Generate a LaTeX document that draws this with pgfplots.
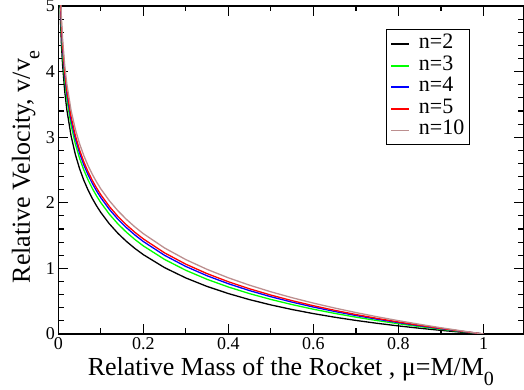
\documentclass[border=0pt]{standalone}
\usepackage{fontspec}
\setmainfont{Liberation Serif}
\usepackage{pgfplots}
\pgfplotsset{compat=1.18}
\definecolor{gbrown}{RGB}{188,143,143}
\definecolor{ggreen}{RGB}{0,255,0}
\definecolor{gblue}{RGB}{0,0,255}
\definecolor{gred}{RGB}{255,0,0}
\newcommand{\sub}[1]{\raisebox{-0.36em}{\fontsize{20}{20}\selectfont #1}}
\begin{document}
\begin{tikzpicture}
\begin{axis}[
  name=ax,
  scale only axis,
  width=465.2pt, height=328pt,
  xmin=0, xmax=1.094, ymin=0, ymax=5,
  xtick={0,0.2,0.4,0.6,0.8,1},
  xticklabels={0,0.2,0.4,0.6,0.8,1},
  ytick={0,1,2,3,4,5},
  minor x tick num=1,
  minor y tick num=4,
  major tick length=10pt,
  minor tick length=5.5pt,
  tick style={line width=1.1pt,black},
  axis line style={line width=1.4pt},
  /pgf/number format/assume math mode=true,
  ticklabel style={font=\fontsize{18}{18}\selectfont},
  label style={font=\fontsize{26}{26}\selectfont},
  xlabel={Relative Mass of the Rocket , μ=M/M\sub{0}},
  ylabel={Relative Velocity, v/v\sub{e}},
  xlabel style={at={(axis description cs:0.5,-0.128)},anchor=base},
  ylabel style={at={(axis description cs:-0.061,0.51)},anchor=base},
  legend style={at={(axis description cs:0.7045,0.929)}, anchor=north west,
    draw=black, line width=1pt, font=\fontsize{22}{22}\selectfont,
    inner xsep=4pt, inner ysep=3.5pt, row sep=0pt,
    nodes={inner sep=1pt, text height=14.3pt, text depth=5.3pt},
    /tikz/every odd column/.append style={column sep=7.5pt}},
  legend cell align=left,
  legend image code/.code={\draw[#1,line width=1.9pt] (0pt,0pt) -- (18pt,0pt);},
  every axis plot/.append style={line width=1.3pt},
]
\addplot[black] coordinates {
(0.003,5.3106)(0.005,4.8008)(0.0075,4.3967)(0.01,4.1102)(0.015,3.7072)(0.02,3.4220)
(0.03,3.0216)(0.04,2.7389)(0.05,2.5207)(0.06,2.3434)(0.07,2.1943)(0.08,2.0657)
(0.09,1.9529)(0.1,1.8526)(0.12,1.6803)(0.14,1.5361)(0.16,1.4126)(0.18,1.3048)
(0.2,1.2094)(0.25,1.0113)(0.3,0.8540)(0.35,0.7248)(0.4,0.6163)(0.45,0.5235)
(0.5,0.4431)(0.55,0.3728)(0.6,0.3108)(0.65,0.2558)(0.7,0.2067)(0.75,0.1627)
(0.8,0.1231)(0.85,0.0875)(0.9,0.0554)(0.95,0.0263)(1,0)};
\addlegendentry{n=2}
\addplot[ggreen] coordinates {
(0.003,5.4768)(0.005,4.9666)(0.0075,4.5621)(0.01,4.2752)(0.015,3.8714)(0.02,3.5853)
(0.03,3.1833)(0.04,2.8989)(0.05,2.6790)(0.06,2.5001)(0.07,2.3493)(0.08,2.2190)
(0.09,2.1046)(0.1,2.0026)(0.12,1.8270)(0.14,1.6794)(0.16,1.5526)(0.18,1.4415)
(0.2,1.3427)(0.25,1.1363)(0.3,0.9707)(0.35,0.8331)(0.4,0.7163)(0.45,0.6152)
(0.5,0.5264)(0.55,0.4478)(0.6,0.3775)(0.65,0.3141)(0.7,0.2567)(0.75,0.2044)
(0.8,0.1564)(0.85,0.1125)(0.9,0.0721)(0.95,0.0346)(1,0)};
\addlegendentry{n=3}
\addplot[gblue] coordinates {
(0.003,5.5599)(0.005,5.0496)(0.0075,4.6448)(0.01,4.3577)(0.015,3.9535)(0.02,3.6670)
(0.03,3.2641)(0.04,2.9789)(0.05,2.7582)(0.06,2.5784)(0.07,2.4268)(0.08,2.2957)
(0.09,2.1804)(0.1,2.0776)(0.12,1.9003)(0.14,1.7511)(0.16,1.6226)(0.18,1.5098)
(0.2,1.4094)(0.25,1.1988)(0.3,1.0290)(0.35,0.8873)(0.4,0.7663)(0.45,0.6610)
(0.5,0.5681)(0.55,0.4853)(0.6,0.4108)(0.65,0.3433)(0.7,0.2817)(0.75,0.2252)
(0.8,0.1731)(0.85,0.1250)(0.9,0.0804)(0.95,0.0388)(1,0)};
\addlegendentry{n=4}
\addplot[gred] coordinates {
(0.003,5.6097)(0.005,5.0993)(0.0075,4.6944)(0.01,4.4072)(0.015,4.0027)(0.02,3.7160)
(0.03,3.3126)(0.04,3.0269)(0.05,2.8057)(0.06,2.6254)(0.07,2.4733)(0.08,2.3417)
(0.09,2.2259)(0.1,2.1226)(0.12,1.9443)(0.14,1.7941)(0.16,1.6646)(0.18,1.5508)
(0.2,1.4494)(0.25,1.2363)(0.3,1.0640)(0.35,0.9198)(0.4,0.7963)(0.45,0.6885)
(0.5,0.5931)(0.55,0.5078)(0.6,0.4308)(0.65,0.3608)(0.7,0.2967)(0.75,0.2377)
(0.8,0.1831)(0.85,0.1325)(0.9,0.0854)(0.95,0.0413)(1,0)};
\addlegendentry{n=5}
\addplot[gbrown] coordinates {
(0.003,5.7094)(0.005,5.1988)(0.0075,4.7937)(0.01,4.5062)(0.015,4.1012)(0.02,3.8140)
(0.03,3.4096)(0.04,3.1229)(0.05,2.9007)(0.06,2.7194)(0.07,2.5663)(0.08,2.4337)
(0.09,2.3169)(0.1,2.2126)(0.12,2.0323)(0.14,1.8801)(0.16,1.7486)(0.18,1.6328)
(0.2,1.5294)(0.25,1.3113)(0.3,1.1340)(0.35,0.9848)(0.4,0.8563)(0.45,0.7435)
(0.5,0.6431)(0.55,0.5528)(0.6,0.4708)(0.65,0.3958)(0.7,0.3267)(0.75,0.2627)
(0.8,0.2031)(0.85,0.1475)(0.9,0.0954)(0.95,0.0463)(1,0)};
\addlegendentry{n=10}
\end{axis}
\pgfresetboundingbox
\useasboundingbox (ax.south west) ++(-58.3pt,-56pt) rectangle ++(524pt,390pt);
\end{tikzpicture}
\end{document}
